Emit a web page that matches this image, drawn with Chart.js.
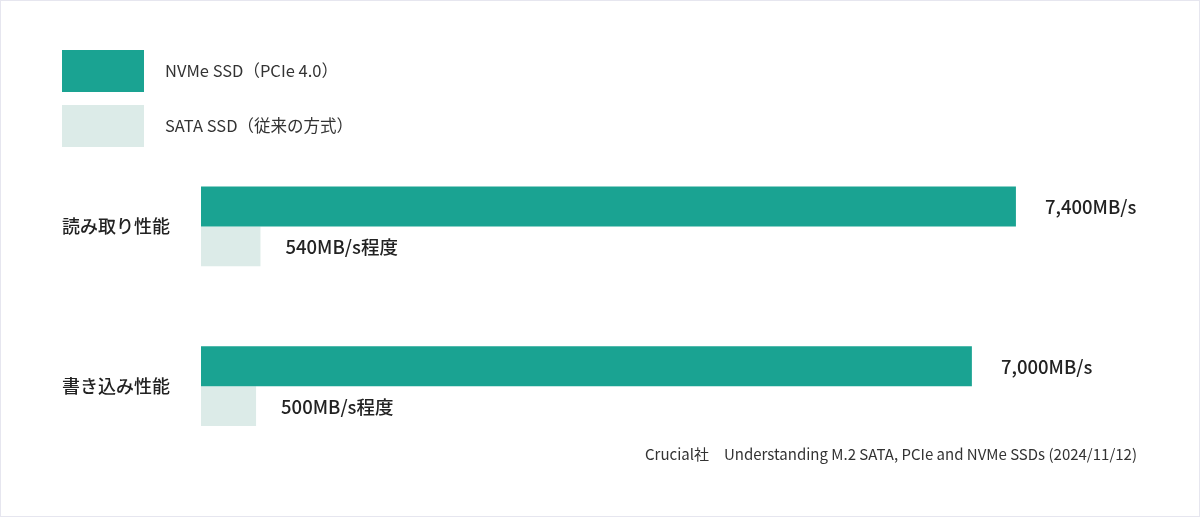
<!DOCTYPE html>
<html lang="ja">
<head>
<meta charset="utf-8">
<script src="https://cdn.jsdelivr.net/npm/chart.js@4"></script>
<style>
  html, body { margin: 0; padding: 0; background: #fff; }
  #wrap { width: 1200px; height: 517px; position: relative; }
</style>
</head>
<body>
<div id="wrap"><canvas id="ssdChart"></canvas></div>
<script>
const categories = ['読み取り性能', '書き込み性能'];
const seriesNames = ['NVMe SSD（PCIe 4.0）', 'SATA SSD（従来の方式）'];
const nvmeValues = [7400, 7000];
const sataValues = [540, 500];
const nvmeLabels = ['7,400MB/s', '7,000MB/s'];
const sataLabels = ['540MB/s程度', '500MB/s程度'];
const sourceNote = 'Crucial社　Understanding M.2 SATA, PCIe and NVMe SSDs (2024/11/12)';

const FONT = '"Noto Sans CJK JP", "Noto Sans", sans-serif';

// legend, value labels, source line and frame are drawn here
const extras = {
  id: 'extras',
  afterDraw(chart) {
    const ctx = chart.ctx;
    ctx.save();

    // legend boxes on the top left
    chart.data.datasets.forEach((ds, i) => {
      const y = 50 + i * 55;
      ctx.fillStyle = ds.backgroundColor;
      ctx.fillRect(62, y, 82, 42);
      ctx.fillStyle = '#333';
      ctx.font = '400 16.5px ' + FONT;
      ctx.textBaseline = 'middle';
      ctx.textAlign = 'left';
      ctx.fillText(ds.label, 165, y + 21);
    });

    // value labels at the end of each bar
    chart.data.datasets.forEach((ds, i) => {
      const meta = chart.getDatasetMeta(i);
      meta.data.forEach((bar, j) => {
        ctx.fillStyle = '#222';
        ctx.font = '500 18.5px ' + FONT;
        ctx.textBaseline = 'middle';
        ctx.textAlign = 'left';
        const gap = i === 0 ? 29 : 25;
        ctx.fillText(ds.valueLabels[j], bar.x + gap, bar.y + 1);
      });
    });

    // source
    ctx.fillStyle = '#333';
    ctx.font = '400 15px ' + FONT;
    ctx.textAlign = 'right';
    ctx.textBaseline = 'middle';
    ctx.fillText(sourceNote, 1137, 454);

    // faint frame
    ctx.strokeStyle = '#e6e6ef';
    ctx.lineWidth = 1;
    ctx.strokeRect(0.5, 0.5, 1199, 516);
    ctx.restore();
  }
};

const ctx = document.getElementById('ssdChart').getContext('2d');
new Chart(ctx, {
  type: 'bar',
  data: {
    labels: categories,
    datasets: [
      {
        label: seriesNames[0],
        data: nvmeValues,
        valueLabels: nvmeLabels,
        backgroundColor: '#1aa392'
      },
      {
        label: seriesNames[1],
        data: sataValues,
        valueLabels: sataLabels,
        backgroundColor: '#dcebe8'
      }
    ]
  },
  options: {
    indexAxis: 'y',
    responsive: true,
    maintainAspectRatio: false,
    animation: false,
    datasets: {
      bar: { categoryPercentage: 0.5, barPercentage: 1.0, borderWidth: 0 }
    },
    layout: {
      padding: { top: 146.5, bottom: 51, left: 62, right: 118 }
    },
    scales: {
      x: {
        min: 0,
        max: 8000,
        display: false
      },
      y: {
        grid: { display: false },
        border: { display: false },
        ticks: {
          crossAlign: 'far',
          color: '#222',
          padding: 0,
          font: { family: FONT, size: 18, weight: '500' }
        },
        afterFit(scale) { scale.width = 139; }
      }
    },
    plugins: {
      legend: { display: false },
      tooltip: { enabled: false }
    }
  },
  plugins: [extras]
});
</script>
</body>
</html>
